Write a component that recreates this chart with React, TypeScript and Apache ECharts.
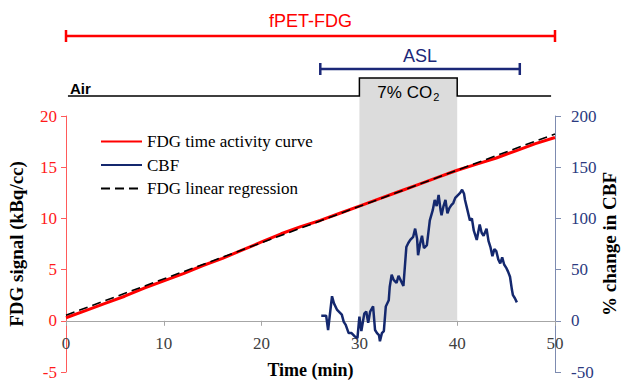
import React, { useEffect, useRef } from "react";
import * as echarts from "echarts";

// FDG time activity curve (min, kBq/cc)
const fdgTime = [0, 2, 4, 6, 8, 10, 12, 14, 16, 18, 20, 22, 24, 26, 28, 30, 32, 34, 36, 38, 40, 42, 44, 46, 48, 50];
const fdgSignal = [0.3, 1.0, 1.7, 2.4, 3.2, 3.9, 4.6, 5.4, 6.1, 6.9, 7.7, 8.5, 9.2, 9.8, 10.5, 11.2, 11.9, 12.6, 13.3, 14.0, 14.7, 15.3, 15.9, 16.6, 17.3, 17.9];

// FDG linear regression end points
const regTime = [0, 50];
const regSignal = [0.55, 18.25];

// CBF (% change)
const cbfTime = [26.1, 26.6, 26.8, 27.2, 27.4, 27.7, 28.0, 28.2, 28.4, 28.6, 28.9, 29.2, 29.5, 29.8, 30.0, 30.2, 30.5, 30.7, 30.9, 31.1, 31.4, 31.6, 31.8, 32.0, 32.1, 32.3, 32.5, 32.7, 33.0, 33.1, 33.3, 33.5, 33.8, 34.0, 34.2, 34.5, 34.8, 35.0, 35.2, 35.5, 35.7, 35.9, 36.0, 36.2, 36.4, 36.6, 36.9, 37.0, 37.2, 37.5, 37.7, 37.9, 38.1, 38.3, 38.4, 38.6, 38.8, 39.0, 39.2, 39.4, 39.6, 39.8, 40.1, 40.3, 40.5, 40.7, 40.8, 41.0, 41.3, 41.5, 41.7, 42.0, 42.3, 42.5, 42.7, 43.0, 43.2, 43.4, 43.6, 43.8, 44.0, 44.2, 44.4, 44.6, 44.8, 45.0, 45.2, 45.4, 45.6, 45.7, 45.9, 46.1];
const cbfChange = [5, 5, -9, 24, 17, 11, 8, 6, -1, -4, -12, -12, -15, -17, 4, -10, 7, 9, -2, 9, 14, -9, -12, -14, -20, -12, -10, 14, 20, 33, 45, 40, 37, 44, 40, 34, 72, 76, 79, 82, 90, 80, 64, 75, 83, 71, 74, 82, 98, 108, 118, 112, 123, 108, 103, 112, 118, 105, 110, 113, 115, 120, 123, 125, 128, 124, 118, 110, 98, 100, 88, 79, 94, 86, 83, 90, 78, 72, 63, 70, 68, 60, 56, 62, 55, 52, 48, 43, 30, 25, 22, 18];

// protocol annotations (min)
const spanLabels = ["fPET-FDG", "ASL"];
const spanStart = [0, 26];
const spanEnd = [50, 46.4];
const gasStart = 0.2;
const gasEnd = 49.6;
const co2Start = 30;
const co2End = 40;

const seriesNames = ["FDG time activity curve", "CBF", "FDG linear regression"];

export default function App() {
  const ref = useRef<HTMLDivElement>(null);
  useEffect(() => {
    document.body.style.margin = "0";
    const chart = echarts.init(ref.current!, undefined, { renderer: "svg" });
    const serif = "Liberation Serif";
    const sans = "Liberation Sans";
    const spanColors = ["#ff0000", "#1b2878"];
    const spanRows = [36, 69];
    const spanTextRows = [21, 56];
    const baseRow = 96;
    const co2Row = 78;
    const topBottom = 116;

    const H = 380;
    const gridTop = 116;
    const gridBottom = 8;
    const yMin = -5;
    const yMax = 20;
    // raise the x axis to the zero line of the left axis
    const zeroOffset = -((H - gridTop - gridBottom) * (0 - yMin)) / (yMax - yMin);

    const option: any = {
      animation: false,
      grid: [
        { left: 66, right: 69, top: gridTop, bottom: gridBottom, outerBoundsMode: "none", containLabel: false },
        { left: 66, right: 69, top: 0, height: topBottom, outerBoundsMode: "none", containLabel: false },
      ],
      legend: {
        data: seriesNames,
        orient: "vertical",
        left: 95,
        top: 128,
        itemWidth: 41,
        itemHeight: 14,
        itemGap: 6.5,
        itemStyle: { opacity: 0 },
        textStyle: { fontFamily: serif, fontSize: 17, color: "#000" },
      },
      xAxis: [
        {
          gridIndex: 0,
          type: "value",
          min: 0,
          max: 50,
          interval: 10,
          offset: zeroOffset,
          axisLine: { onZero: false, lineStyle: { color: "#a6a6a6", width: 1 } },
          axisTick: { show: true, length: 5, lineStyle: { color: "#a6a6a6" } },
          axisLabel: { fontFamily: serif, fontSize: 17, color: "#404040", margin: 14 },
          splitLine: { show: false },
          name: "Time (min)",
          nameLocation: "middle",
          nameGap: 40,
          nameTextStyle: { fontFamily: serif, fontSize: 18, fontWeight: "bold", color: "#000" },
        },
        { gridIndex: 1, type: "value", min: 0, max: 50, show: false },
      ],
      yAxis: [
        {
          gridIndex: 0,
          type: "value",
          min: yMin,
          max: yMax,
          interval: 5,
          axisLine: { show: true, onZero: false, lineStyle: { color: "#ff5a5a", width: 1 } },
          axisTick: { show: true, length: 5, lineStyle: { color: "#ff5a5a" } },
          axisLabel: { fontFamily: serif, fontSize: 17, color: "#ff1a1a", margin: 9 },
          splitLine: { show: false },
          name: "FDG signal (kBq/cc)",
          nameLocation: "middle",
          nameRotate: 90,
          nameGap: 40,
          nameTextStyle: { fontFamily: serif, fontSize: 19, fontWeight: "bold", color: "#000" },
        },
        {
          gridIndex: 0,
          type: "value",
          position: "right",
          min: -50,
          max: 200,
          interval: 50,
          axisLine: { show: true, onZero: false, lineStyle: { color: "#7d8bb0", width: 1 } },
          axisTick: { show: true, length: 6, lineStyle: { color: "#7d8bb0" } },
          axisLabel: { fontFamily: serif, fontSize: 17, color: "#2b3a80", margin: 16 },
          splitLine: { show: false },
          name: "% change in CBF",
          nameLocation: "middle",
          nameRotate: 90,
          nameGap: 45,
          nameMoveOverlap: false,
          nameTextStyle: { fontFamily: serif, fontSize: 19, fontWeight: "bold", color: "#000" },
        },
        { gridIndex: 1, type: "value", min: 0, max: topBottom, inverse: true, show: false },
      ],
      series: [
        {
          name: seriesNames[0],
          type: "line",
          xAxisIndex: 0,
          yAxisIndex: 0,
          data: fdgTime.map((t, i) => [t, fdgSignal[i]]),
          symbol: "none",
          lineStyle: { color: "#ff0000", width: 3 },
          itemStyle: { color: "#ff0000" },
          z: 3,
          markArea: {
            silent: true,
            z: 1,
            itemStyle: { color: "#dcdcdc" },
            data: [[{ xAxis: co2Start, yAxis: 0 }, { xAxis: co2End, yAxis: 20 }]],
          },
        },
        {
          name: seriesNames[1],
          type: "line",
          xAxisIndex: 0,
          yAxisIndex: 1,
          data: cbfTime.map((t, i) => [t, cbfChange[i]]),
          symbol: "none",
          lineStyle: { color: "#14286e", width: 2.5 },
          itemStyle: { color: "#14286e" },
          z: 4,
        },
        {
          name: seriesNames[2],
          type: "line",
          xAxisIndex: 0,
          yAxisIndex: 0,
          data: regTime.map((t, i) => [t, regSignal[i]]),
          symbol: "none",
          lineStyle: { color: "#000", width: 1.6, type: [9, 5] },
          itemStyle: { color: "#000" },
          z: 5,
        },
        {
          type: "custom",
          xAxisIndex: 1,
          yAxisIndex: 2,
          silent: true,
          data: [[co2Start, co2End]],
          renderItem: (params: any, api: any) => {
            const pts = [
              [gasStart, baseRow],
              [co2Start, baseRow],
              [co2Start, co2Row],
              [co2End, co2Row],
              [co2End, baseRow],
              [gasEnd, baseRow],
            ].map((p) => api.coord(p));
            const a = api.coord([co2Start, co2Row]);
            const b = api.coord([co2End, topBottom]);
            const mid = api.coord([(co2Start + co2End) / 2, 92]);
            const air = api.coord([gasStart, 88]);
            return {
              type: "group",
              children: [
                { type: "rect", shape: { x: a[0], y: a[1], width: b[0] - a[0], height: b[1] - a[1] }, style: { fill: "#dcdcdc" } },
                { type: "polyline", shape: { points: pts }, style: { stroke: "#000", lineWidth: 1.5, fill: null } },
                {
                  type: "text",
                  x: air[0] + 2,
                  y: air[1],
                  style: { text: "Air", fill: "#000", font: `bold 15px ${sans}`, align: "left", verticalAlign: "middle" },
                },
                {
                  type: "text",
                  x: mid[0],
                  y: mid[1],
                  style: {
                    text: "7% CO{sub|2}",
                    fill: "#000",
                    font: `17px ${sans}`,
                    align: "center",
                    verticalAlign: "middle",
                    rich: { sub: { fontSize: 11, fontFamily: sans, fill: "#000", padding: [9, 0, 0, 1] } },
                  },
                },
              ],
            };
          },
          z: 2,
        },
        {
          type: "custom",
          xAxisIndex: 1,
          yAxisIndex: 2,
          silent: true,
          data: spanStart.map((s, i) => [s, spanEnd[i], i]),
          renderItem: (params: any, api: any) => {
            const i = params.dataIndex;
            const row = spanRows[i];
            const p1 = api.coord([api.value(0), row]);
            const p2 = api.coord([api.value(1), row]);
            const c = spanColors[i];
            const lw = 2.5;
            return {
              type: "group",
              children: [
                { type: "line", shape: { x1: p1[0], y1: p1[1], x2: p2[0], y2: p2[1] }, style: { stroke: c, lineWidth: lw } },
                { type: "line", shape: { x1: p1[0], y1: p1[1] - 6, x2: p1[0], y2: p1[1] + 6 }, style: { stroke: c, lineWidth: lw } },
                { type: "line", shape: { x1: p2[0], y1: p2[1] - 6, x2: p2[0], y2: p2[1] + 6 }, style: { stroke: c, lineWidth: lw } },
                {
                  type: "text",
                  x: (p1[0] + p2[0]) / 2,
                  y: api.coord([0, spanTextRows[i]])[1],
                  style: { text: spanLabels[i], fill: c, font: `18px ${sans}`, align: "center", verticalAlign: "middle" },
                },
              ],
            };
          },
          z: 3,
        },
      ],
    };
    chart.setOption(option);
    return () => chart.dispose();
  }, []);
  return <div ref={ref} style={{ width: 624, height: 380 }} />;
}
